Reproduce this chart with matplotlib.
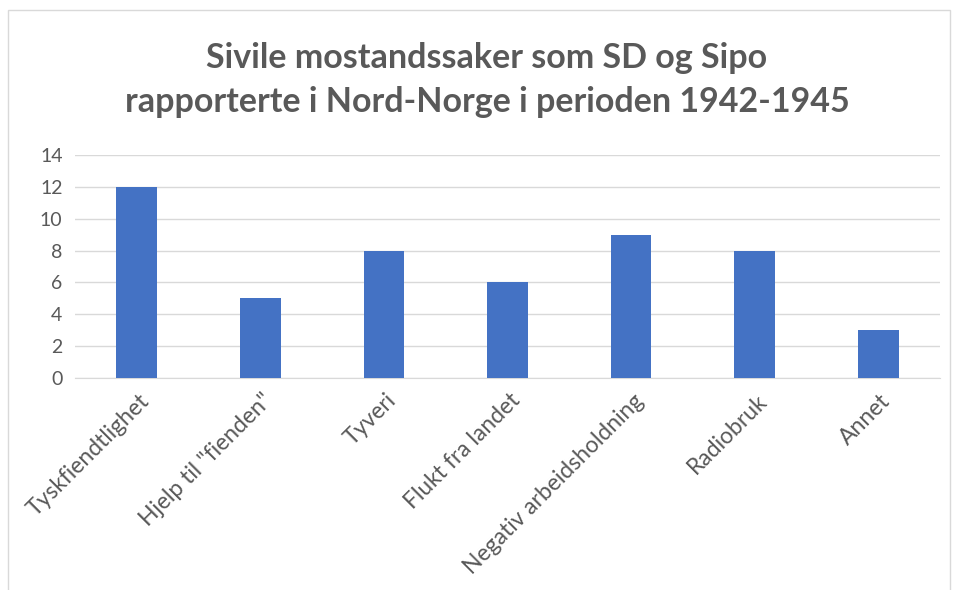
import numpy as np
import matplotlib.pyplot as plt
from matplotlib.transforms import ScaledTranslation

# data
kategorier = ['Tyskfiendtlighet', 'Hjelp til "fienden"', 'Tyveri', 'Flukt fra landet',
              'Negativ arbeidsholdning', 'Radiobruk', 'Annet']
antall = [12, 5, 8, 6, 9, 8, 3]
y_ticks = [0, 2, 4, 6, 8, 10, 12, 14]

plt.rcParams['font.family'] = ['Lato', 'DejaVu Sans']

fig = plt.figure(figsize=(9.57, 5.90), dpi=100)
ax = fig.add_axes([75/957, 1 - 378/590, (940-75)/957, (378-155)/590])

x = np.arange(len(kategorier))
ax.bar(x, antall, width=0.33, color='#4472C4', zorder=3)

ax.set_xlim(-0.5, len(kategorier) - 0.5)
ax.set_ylim(0, 14)
ax.set_yticks(y_ticks)
ax.set_xticks(x)
ax.set_xticklabels(kategorier, rotation=45, ha='right', va='center', rotation_mode='anchor')
ax.tick_params(axis='both', length=0, colors='#595959')
ax.tick_params(axis='x', pad=14, labelsize=16.5)
ax.tick_params(axis='y', pad=9, labelsize=14)
# shift the slanted labels a little to the right
for lbl in ax.get_xticklabels():
    lbl.set_transform(lbl.get_transform() + ScaledTranslation(9/100, 0, fig.dpi_scale_trans))
ax.yaxis.grid(True, color='#D9D9D9', linewidth=1, zorder=0)
for s in ['top', 'right', 'left']:
    ax.spines[s].set_visible(False)
ax.spines['bottom'].set_color('#D9D9D9')

fig.text(487/957, 1 - 80/590, 'Sivile mostandssaker som SD og Sipo\nrapporterte i Nord-Norge i perioden 1942-1945',
         ha='center', va='center', fontsize=24.5, fontweight='bold', color='#595959', linespacing=1.45)

# chart border
border = plt.Rectangle((8/957, -0.01), (950-8)/957, 1 - 10/590 + 0.01, transform=fig.transFigure,
                       fill=False, edgecolor='#D9D9D9', linewidth=1)
fig.patches.append(border)

fig.savefig('out.png', dpi=100)
